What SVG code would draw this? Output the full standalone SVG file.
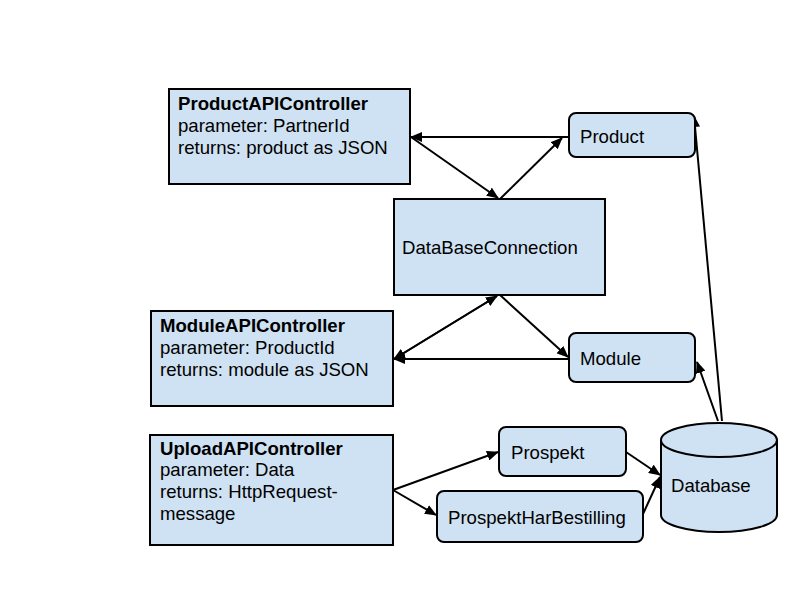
<svg xmlns="http://www.w3.org/2000/svg" width="800" height="600" viewBox="0 0 800 600">
<style>
.box{fill:#cfe2f3;stroke:#000;stroke-width:2}
.t{font-family:"Liberation Sans",Arial,sans-serif;font-size:18.6px;fill:#000}
.b{font-weight:bold}
.c{fill:none;stroke:#000;stroke-width:2;marker-end:url(#ah)}
</style>
<defs>
<marker id="ah" markerWidth="12" markerHeight="10" refX="11" refY="5" orient="auto" markerUnits="userSpaceOnUse">
<path d="M0,0 L12,5 L0,10 Z" fill="#000"/>
</marker>
</defs>
<rect width="800" height="600" fill="#fff"/>
<g id="connectors">
<line class="c" x1="569" y1="137" x2="411" y2="137"/>
<line class="c" x1="411" y1="137" x2="498" y2="198"/>
<line class="c" x1="500" y1="199" x2="562" y2="138"/>
<line class="c" x1="394" y1="359" x2="497" y2="296"/>
<line class="c" x1="497" y1="296" x2="394" y2="359"/>
<line class="c" x1="569" y1="359" x2="394" y2="359"/>
<line class="c" x1="500" y1="295" x2="568" y2="357"/>
<line class="c" x1="722" y1="421" x2="694" y2="116"/>
<line class="c" x1="718" y1="421" x2="697" y2="362"/>
<line class="c" x1="393" y1="490" x2="498" y2="452"/>
<line class="c" x1="393" y1="490" x2="436" y2="515"/>
<line class="c" x1="626" y1="452" x2="660" y2="475"/>
<line class="c" x1="643" y1="514" x2="660" y2="477"/>
</g>
<g id="ProductAPIController">
<rect class="box" x="169" y="89" width="241" height="95"/>
<text class="t b" x="178" y="110">ProductAPIController</text>
<text class="t" x="178" y="132">parameter: PartnerId</text>
<text class="t" x="178" y="154">returns: product as JSON</text>
</g>
<g id="Product">
<rect class="box" x="569" y="113" width="126" height="44" rx="7"/>
<text class="t" x="580" y="143">Product</text>
</g>
<g id="DataBaseConnection">
<rect class="box" x="394" y="199" width="211" height="96"/>
<text class="t" x="402" y="254">DataBaseConnection</text>
</g>
<g id="ModuleAPIController">
<rect class="box" x="151" y="311" width="242" height="95"/>
<text class="t b" x="160" y="332">ModuleAPIController</text>
<text class="t" x="160" y="354">parameter: ProductId</text>
<text class="t" x="160" y="376">returns: module as JSON</text>
</g>
<g id="Module">
<rect class="box" x="569" y="333" width="126" height="49" rx="7"/>
<text class="t" x="580" y="365">Module</text>
</g>
<g id="UploadAPIController">
<rect class="box" x="150" y="435" width="243" height="110"/>
<text class="t b" x="160" y="455">UploadAPIController</text>
<text class="t" x="160" y="476">parameter: Data</text>
<text class="t" x="160" y="498">returns: HttpRequest-</text>
<text class="t" x="160" y="520">message</text>
</g>
<g id="Prospekt">
<rect class="box" x="499" y="427" width="127" height="49" rx="7"/>
<text class="t" x="511" y="459">Prospekt</text>
</g>
<g id="ProspektHarBestilling">
<rect class="box" x="437" y="491" width="206" height="51" rx="7"/>
<text class="t" x="448" y="524">ProspektHarBestilling</text>
</g>
<g id="Database">
<path class="box" d="M661,440 L661,515 A58,17 0 0 0 777,515 L777,440 A58,17 0 0 0 661,440 Z"/>
<path d="M661,440 A58,17 0 0 0 777,440" fill="none" stroke="#000" stroke-width="2"/>
<text class="t" x="671" y="492">Database</text>
</g>
</svg>
